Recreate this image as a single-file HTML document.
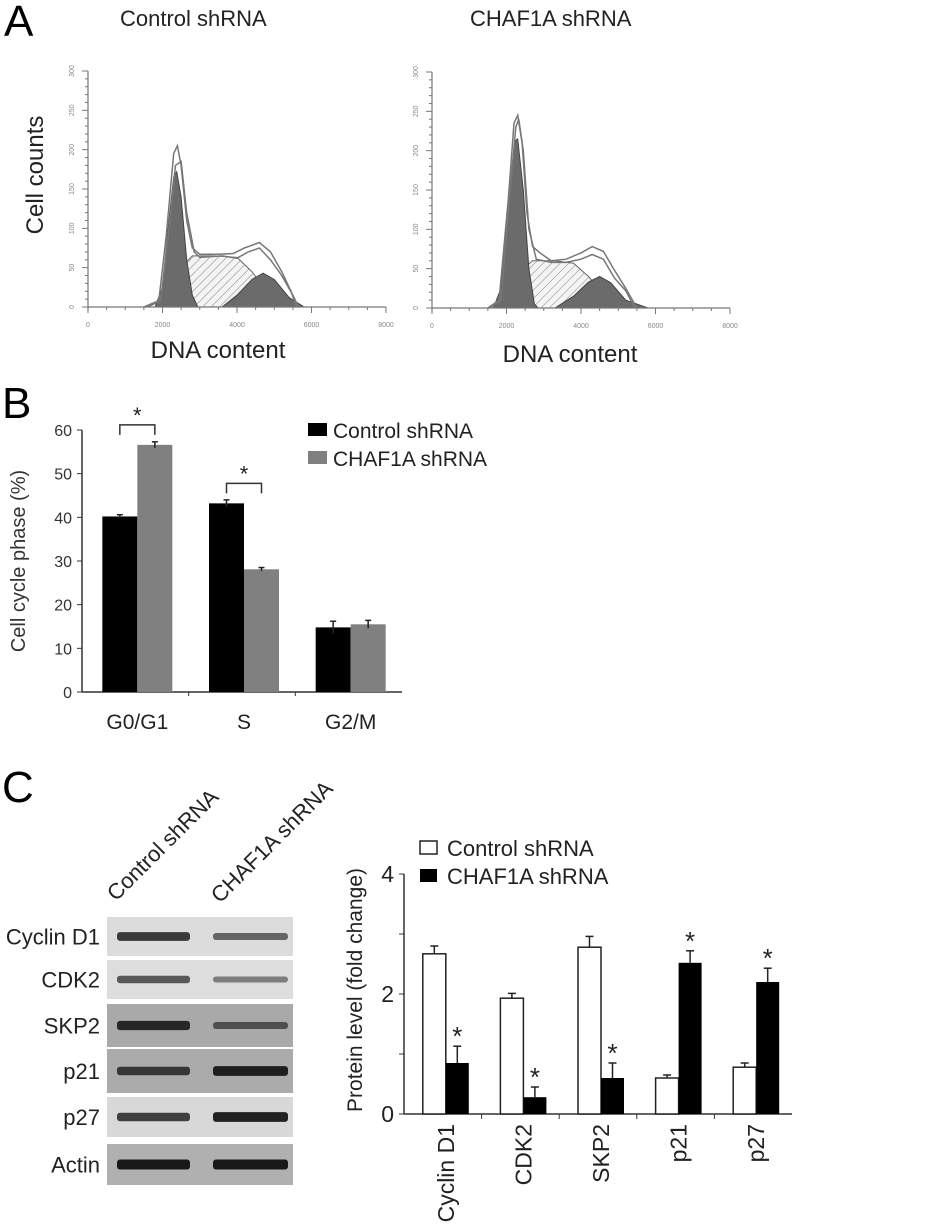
<!DOCTYPE html>
<html><head><meta charset="utf-8"><style>
body{margin:0;background:#fff}
svg{display:block;font-family:"Liberation Sans",Arial,sans-serif}
</style></head><body>
<svg id="fig" width="945" height="1228" viewBox="0 0 945 1228" xmlns="http://www.w3.org/2000/svg">
<defs>
<pattern id="hatch" width="6" height="6" patternUnits="userSpaceOnUse" patternTransform="rotate(45)">
<rect width="6" height="6" fill="#f4f4f4"/><line x1="0" y1="0" x2="0" y2="6" stroke="#888" stroke-width="1"/>
</pattern>
</defs>
<text x="4" y="36" font-size="44">A</text>
<text x="120" y="26" font-size="22" fill="#222">Control shRNA</text>
<text x="470" y="26" font-size="22" fill="#222">CHAF1A shRNA</text>
<text transform="translate(43,175) rotate(-90)" text-anchor="middle" font-size="24" fill="#222">Cell counts</text>
<text x="218" y="358" text-anchor="middle" font-size="24" fill="#222">DNA content</text>
<text x="570" y="362" text-anchor="middle" font-size="24" fill="#222">DNA content</text>
<g id="histL"></g>
<g id="histR"></g>

<text x="2" y="418" font-size="44">B</text>
<g id="chartB"></g>

<text x="2" y="802" font-size="44">C</text>
<g id="blots"></g>
<g id="chartC"></g>
</svg>
<script>
const NS="http://www.w3.org/2000/svg";
function mk(parent,tag,attrs,txt){const e=document.createElementNS(NS,tag);for(const k in attrs)e.setAttribute(k,attrs[k]);if(txt!==undefined)e.textContent=txt;parent.appendChild(e);return e;}

const histTicksX=[0,2000,4000,6000,8000];
const histTicksY=[0,50,100,150,200,250,300];
const ctrlG1=[[1800,0],[2000,25],[2150,100],[2300,165],[2380,172],[2500,140],[2650,60],[2800,15],[2950,0]];
const ctrlS=[[2000,0],[2300,25],[2600,55],[2800,65],[3400,65],[4000,63],[4400,45],[4800,20],[5200,5],[5500,0]];
const ctrlG2=[[3600,0],[4000,15],[4400,35],[4700,43],[5000,35],[5400,12],[5800,0]];
const ctrlEnv1=[[1500,0],[1900,8],[2100,90],[2300,195],[2400,205],[2500,180],[2650,110],[2800,75],[3000,67],[3500,67],[3900,68],[4200,75],[4600,82],[4900,70],[5200,45],[5450,20],[5600,0]];
const ctrlEnv2=[[1600,0],[1950,8],[2150,90],[2350,180],[2500,185],[2650,120],[2850,70],[3000,63],[3600,65],[4000,62],[4300,70],[4600,75],[4900,60],[5200,40],[5500,15],[5650,0]];
const chafG1=[[1650,0],[1850,25],[2050,130],[2220,212],[2300,215],[2450,150],[2600,50],[2750,5],[2850,0]];
const chafS=[[1900,0],[2200,25],[2450,50],[2700,60],[3300,60],[3800,57],[4200,40],[4600,18],[5000,5],[5300,0]];
const chafG2=[[3300,0],[3800,15],[4200,33],[4500,40],[4800,32],[5200,10],[5800,0]];
const chafEnv1=[[1500,0],[1800,10],[2050,140],[2200,235],[2300,245],[2420,210],[2550,120],[2700,78],[2900,70],[3200,60],[3600,62],[4000,70],[4300,78],[4600,72],[4900,48],[5200,25],[5500,0]];
const chafEnv2=[[1550,0],[1850,10],[2100,150],[2250,230],[2330,240],[2450,200],[2600,100],[2800,62],[3200,58],[3600,58],[4000,62],[4300,68],[4600,62],[4900,38],[5200,22],[5450,0]];

function drawHist(g,x0,x1,y0,y1,G1,S,G2,E1,E2){
  const sx=v=>x0+v*(x1-x0)/8000, sy=c=>y0-c*(y0-y1)/300;
  const path=(pts,close)=>{let d=pts.map((p,i)=>(i?'L':'M')+sx(p[0]).toFixed(1)+','+sy(p[1]).toFixed(1)).join(' ');return close?d+' Z':d;};
  let e;
  e=mk(g,'path',{d:path(S,true),fill:'url(#hatch)',stroke:'#666','stroke-width':1});
  
  
  e=mk(g,'path',{d:path(G1,true),fill:'#6b6b6b',stroke:'#444','stroke-width':1});
  
  
  e=mk(g,'path',{d:path(G2,true),fill:'#6b6b6b',stroke:'#444','stroke-width':1});
  
  
  e=mk(g,'path',{d:path(E1,false),fill:'none',stroke:'#777','stroke-width':1.5});
  
  
  e=mk(g,'path',{d:path(E2,false),fill:'none',stroke:'#777','stroke-width':1.5});
  
  
  mk(g,'line',{x1:x0,y1:y0,x2:x1,y2:y0,stroke:'#777','stroke-width':1.2});
  mk(g,'line',{x1:x0,y1:y0+4,x2:x0,y2:y1,stroke:'#777','stroke-width':1.2});
  for(let v=0;v<=8000;v+=500){mk(g,'line',{x1:sx(v),y1:y0,x2:sx(v),y2:y0+(v%2000?3:6),stroke:'#777'});}
  histTicksX.forEach(v=>{e=mk(g,'text',{x:sx(v),y:y0+20,'font-size':7,'text-anchor':'middle',fill:'#888'},String(v));});
  for(let c=0;c<=300;c+=10){mk(g,'line',{x1:x0-(c%50?3:6),y1:sy(c),x2:x0,y2:sy(c),stroke:'#777'});}
  histTicksY.forEach(c=>{e=mk(g,'text',{transform:`translate(${x0-14},${sy(c)}) rotate(-90)`,'font-size':7,'text-anchor':'middle',fill:'#888'},String(c));});
}
drawHist(document.getElementById('histL'),88,386,307,71,ctrlG1,ctrlS,ctrlG2,ctrlEnv1,ctrlEnv2);
drawHist(document.getElementById('histR'),432,730,308,72,chafG1,chafS,chafG2,chafEnv1,chafEnv2);

const phaseCats=["G0/G1","S","G2/M"];
const phaseCtrl=[40.2,43.2,14.8];
const phaseCtrlErr=[0.4,0.8,1.4];
const phaseChaf=[56.6,28.1,15.5];
const phaseChafErr=[0.7,0.4,0.9];
const phaseTicks=[0,10,20,30,40,50,60];
(function(){
  const g=document.getElementById('chartB');
  const X0=82,X1=402,Y0=692,Y60=430;
  const sy=v=>Y0-v*(Y0-Y60)/60;
  const gw=(X1-X0)/3, bw=35;
  let e;
  mk(g,'line',{x1:X0,y1:Y0,x2:X1,y2:Y0,stroke:'#333','stroke-width':1.5});
  mk(g,'line',{x1:X0,y1:Y0,x2:X0,y2:Y60,stroke:'#333','stroke-width':1.5});
  phaseTicks.forEach(v=>{mk(g,'line',{x1:X0-5,y1:sy(v),x2:X0,y2:sy(v),stroke:'#333'});
    e=mk(g,'text',{x:X0-10,y:sy(v)+6,'font-size':16,'text-anchor':'end',fill:'#333'},String(v));
    
    });
  for(let i=1;i<3;i++)mk(g,'line',{x1:X0+gw*i,y1:Y0,x2:X0+gw*i,y2:Y0+4,stroke:'#333'});
  phaseCats.forEach((c,i)=>{
    const cx=X0+gw*(i+0.5)+2;
    [[phaseCtrl,phaseCtrlErr,'#000',-bw],[phaseChaf,phaseChafErr,'#808080',0]].forEach(([vals,errs,col,off])=>{
      const x=cx+off;
      e=mk(g,'rect',{x:x,y:sy(vals[i]),width:bw,height:Y0-sy(vals[i]),fill:col});
      
      
      const mx=x+bw/2, t=sy(vals[i]+errs[i]), b=sy(vals[i]-errs[i]);
      mk(g,'line',{x1:mx,y1:t,x2:mx,y2:b,stroke:'#222','stroke-width':1.5});
      mk(g,'line',{x1:mx-3,y1:t,x2:mx+3,y2:t,stroke:'#222','stroke-width':1.5});
    });
    e=mk(g,'text',{x:cx,y:729,'font-size':21,'text-anchor':'middle',fill:'#222'},c);
    
    
  });
  [[0,56.6],[1,43.2]].forEach(([i,top])=>{
    const cx=X0+gw*(i+0.5)+2, yb=sy(top)-10, yt=yb-10;
    mk(g,'path',{d:`M${cx-bw/2},${yb} L${cx-bw/2},${yt} L${cx+bw/2},${yt} L${cx+bw/2},${yb}`,fill:'none',stroke:'#333','stroke-width':1.5});
    e=mk(g,'text',{x:cx,y:yt-2,'font-size':22,'text-anchor':'middle',fill:'#222'},'*');
    
    
  });
  e=mk(g,'text',{transform:'translate(25,561) rotate(-90)','font-size':20,'text-anchor':'middle',fill:'#333'},'Cell cycle phase (%)');
  
  
  mk(g,'rect',{x:308,y:423,width:19,height:13,fill:'#000'});
  e=mk(g,'text',{x:333,y:438,'font-size':21,fill:'#222'},'Control shRNA');
  
  
  mk(g,'rect',{x:308,y:451,width:19,height:13,fill:'#808080'});
  e=mk(g,'text',{x:333,y:466,'font-size':21,fill:'#222'},'CHAF1A shRNA');
  
  
})();

const blotNames=["Cyclin D1","CDK2","SKP2","p21","p27","Actin"];
const blotTop=[917,960,1004,1049,1097,1144];
const blotH=[39,39,43,44,40,41];
const blotBg=["#dcdcdc","#dddddd","#a9a9a9","#ababab","#d8d8d8","#b0b0b0"];
const blotCtrl=[0.75,0.5,0.85,0.7,0.7,1.0];
const blotChaf=[0.4,0.2,0.4,0.95,0.95,1.0];
(function(){
  const g=document.getElementById('blots');
  let e;
  blotNames.forEach((n,i)=>{
    e=mk(g,'rect',{x:107,y:blotTop[i],width:186,height:blotH[i],fill:blotBg[i]});
    
    
    const cy=blotTop[i]+blotH[i]/2;
    [[117,190,blotCtrl[i]],[213,288,blotChaf[i]]].forEach(([a,b,s])=>{
      e=mk(g,'rect',{x:a,y:cy-2.5-s*2.5,width:b-a,height:5+s*5,rx:3,fill:'#111','fill-opacity':0.35+s*0.6});
      
      
    });
    e=mk(g,'text',{x:100,y:cy+8,'font-size':22,'text-anchor':'end',fill:'#222'},n);
    
    
  });
  e=mk(g,'text',{transform:'translate(116,902) rotate(-45)','font-size':22,fill:'#222'},'Control shRNA');
  
  
  e=mk(g,'text',{transform:'translate(220,904) rotate(-45)','font-size':22,fill:'#222'},'CHAF1A shRNA');
  
  
})();

const protCats=["Cyclin D1","CDK2","SKP2","p21","p27"];
const protCtrl=[2.67,1.93,2.78,0.6,0.78];
const protCtrlErr=[0.13,0.08,0.18,0.05,0.07];
const protChaf=[0.85,0.28,0.6,2.52,2.2];
const protChafErr=[0.28,0.17,0.25,0.2,0.23];
const protTicks=[0,1,2,3,4];
const protTickLabels=["0","","2","","4"];
(function(){
  const g=document.getElementById('chartC');
  const X0=404,X1=792,Y0=1114,Y4=874;
  const sy=v=>Y0-v*(Y0-Y4)/4;
  const gw=(X1-X0)/5, bw=23;
  let e;
  mk(g,'line',{x1:X0,y1:Y0,x2:X1,y2:Y0,stroke:'#333','stroke-width':1.5});
  mk(g,'line',{x1:X0,y1:Y0,x2:X0,y2:Y4,stroke:'#333','stroke-width':1.5});
  protTicks.forEach((v,i)=>{mk(g,'line',{x1:X0-5,y1:sy(v),x2:X0,y2:sy(v),stroke:'#333'});
    if(protTickLabels[i]){e=mk(g,'text',{x:X0-10,y:sy(v)+8,'font-size':23,'text-anchor':'end',fill:'#222'},protTickLabels[i]);
    
    }});
  for(let i=1;i<5;i++)mk(g,'line',{x1:X0+gw*i,y1:Y0,x2:X0+gw*i,y2:Y0+5,stroke:'#333'});
  protCats.forEach((c,i)=>{
    const cx=X0+gw*(i+0.5)+3;
    e=mk(g,'rect',{x:cx-bw,y:sy(protCtrl[i]),width:bw,height:Y0-sy(protCtrl[i]),fill:'#fff',stroke:'#222','stroke-width':1.5});
    
    
    let t=sy(protCtrl[i]+protCtrlErr[i]), mx=cx-bw/2;
    mk(g,'line',{x1:mx,y1:sy(protCtrl[i]),x2:mx,y2:t,stroke:'#222','stroke-width':1.5});
    mk(g,'line',{x1:mx-4,y1:t,x2:mx+4,y2:t,stroke:'#222','stroke-width':1.5});
    e=mk(g,'rect',{x:cx,y:sy(protChaf[i]),width:bw,height:Y0-sy(protChaf[i]),fill:'#000'});
    
    
    t=sy(protChaf[i]+protChafErr[i]); mx=cx+bw/2;
    mk(g,'line',{x1:mx,y1:sy(protChaf[i]),x2:mx,y2:t,stroke:'#222','stroke-width':1.5});
    mk(g,'line',{x1:mx-4,y1:t,x2:mx+4,y2:t,stroke:'#222','stroke-width':1.5});
    e=mk(g,'text',{x:mx,y:t-1,'font-size':26,'text-anchor':'middle',fill:'#222'},'*');
    
    
    e=mk(g,'text',{transform:`translate(${cx+8},${Y0+10}) rotate(-90)`,'font-size':23,'text-anchor':'end',fill:'#222'},c);
    
    
  });
  e=mk(g,'text',{transform:'translate(362,990) rotate(-90)','font-size':21,'text-anchor':'middle',fill:'#222'},'Protein level (fold change)');
  
  
  mk(g,'rect',{x:420,y:841,width:17,height:13,fill:'#fff',stroke:'#222','stroke-width':1.5});
  e=mk(g,'text',{x:447,y:856,'font-size':22,fill:'#222'},'Control shRNA');
  
  
  mk(g,'rect',{x:420,y:869,width:17,height:13,fill:'#000'});
  e=mk(g,'text',{x:447,y:884,'font-size':22,fill:'#222'},'CHAF1A shRNA');
  
  
})();
</script>
</body></html>
